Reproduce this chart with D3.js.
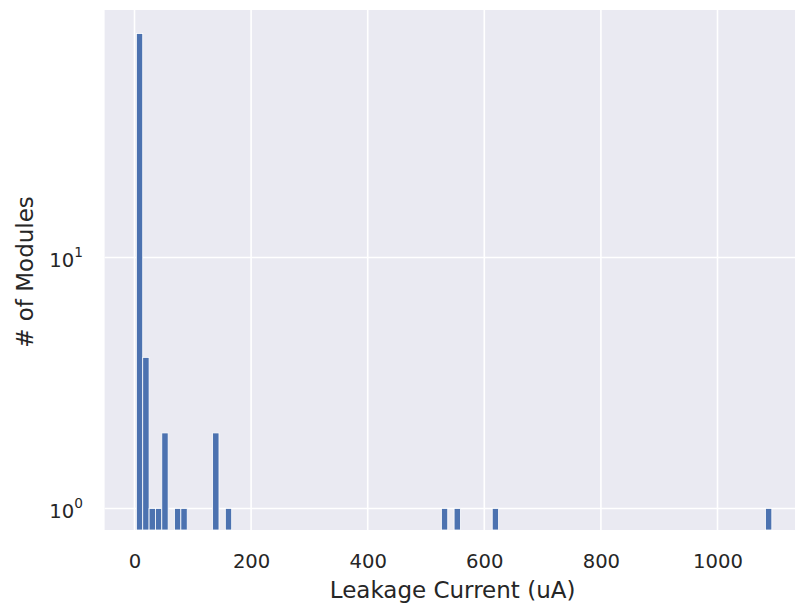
<!DOCTYPE html>
<html>
<head>
<meta charset="utf-8">
<script src="https://cdn.jsdelivr.net/npm/d3@7"></script>
<style>
  html, body { margin: 0; padding: 0; background: #ffffff; }
  text { font-family: "DejaVu Sans", sans-serif; fill: #262626; }
</style>
</head>
<body>
<svg id="chart" width="795" height="608"></svg>
<script>
// ---- data (histogram bins) ----
const binLeft  = [3.2, 14.1, 25.0, 35.9, 46.8, 68.6, 79.5, 134.0, 155.8, 526.4, 548.2, 613.6, 1082.3];
const binWidth = 10.9;
const counts   = [78, 4, 1, 1, 2, 1, 1, 2, 1, 1, 1, 1, 1];
const xTicks   = [0, 200, 400, 600, 800, 1000];
const yTicks   = [1, 10];
const yTickExp = ["0", "1"];
const xLabel   = "Leakage Current (uA)";
const yLabel   = "# of Modules";

// ---- layout ----
const W = 795, H = 608;
const plot = { left: 104.6, right: 803.6, top: 10, bottom: 530 };

const svg = d3.select("#chart");

const x = d3.scaleLinear().domain([-51.3, 1147.7]).range([plot.left, plot.right]);
const y = d3.scaleLog().domain([Math.pow(10, -0.0857), Math.pow(10, 1.986)]).range([plot.bottom, plot.top]);

// background
svg.append("rect")
  .attr("x", plot.left).attr("y", plot.top)
  .attr("width", plot.right - plot.left).attr("height", plot.bottom - plot.top)
  .attr("fill", "#EAEAF2");

// grid
const grid = svg.append("g");
grid.selectAll("line.vx").data(xTicks).join("line")
  .attr("x1", d => x(d)).attr("x2", d => x(d))
  .attr("y1", plot.top).attr("y2", plot.bottom)
  .attr("stroke", "#ffffff").attr("stroke-width", 1.6);
grid.selectAll("line.hy").data(yTicks).join("line")
  .attr("x1", plot.left).attr("x2", plot.right)
  .attr("y1", d => y(d)).attr("y2", d => y(d))
  .attr("stroke", "#ffffff").attr("stroke-width", 1.6);

// bars
const bins = binLeft.map((b, i) => ({ x0: b, x1: b + binWidth, n: counts[i] }));
svg.append("g").selectAll("rect").data(bins).join("rect")
  .attr("x", d => x(d.x0))
  .attr("width", d => x(d.x1) - x(d.x0))
  .attr("y", d => y(d.n))
  .attr("height", d => plot.bottom - y(d.n))
  .attr("fill", "#4C72B0")
  .attr("stroke", "#ffffff")
  .attr("stroke-width", 0.8);

// x axis
const xAxis = d3.axisBottom(x).tickValues(xTicks).tickSize(0).tickPadding(24).tickFormat(d3.format("d"));
const gx = svg.append("g").attr("transform", `translate(0,${plot.bottom})`).call(xAxis);
gx.select(".domain").remove();
gx.selectAll("text").style("font-size", "19.6px").attr("fill", "#262626").style("font-family", "DejaVu Sans");

// y axis (log, 10^n labels)
const yAxis = d3.axisLeft(y).tickValues(yTicks).tickSize(0).tickFormat(() => "");
const gy = svg.append("g").attr("transform", `translate(${plot.left},0)`).call(yAxis);
gy.select(".domain").remove();
gy.selectAll(".tick").each(function(d, i) {
  const t = d3.select(this).select("text");
  t.attr("x", 83 - plot.left).attr("y", 9).attr("dy", null)
    .attr("text-anchor", "end")
    .style("font-size", "19.6px").style("font-family", "DejaVu Sans").attr("fill", "#262626");
  t.append("tspan").text("10");
  t.append("tspan").text(yTickExp[i]).style("font-size", "13.7px").attr("dy", -10);
});

// axis labels
svg.append("text")
  .attr("x", (plot.left + plot.right) / 2 - 1.5).attr("y", 598)
  .attr("text-anchor", "middle").style("font-size", "23px")
  .text(xLabel);
svg.append("text")
  .attr("transform", "translate(33,272) rotate(-90)")
  .attr("text-anchor", "middle").style("font-size", "23px")
  .text(yLabel);
</script>
</body>
</html>
